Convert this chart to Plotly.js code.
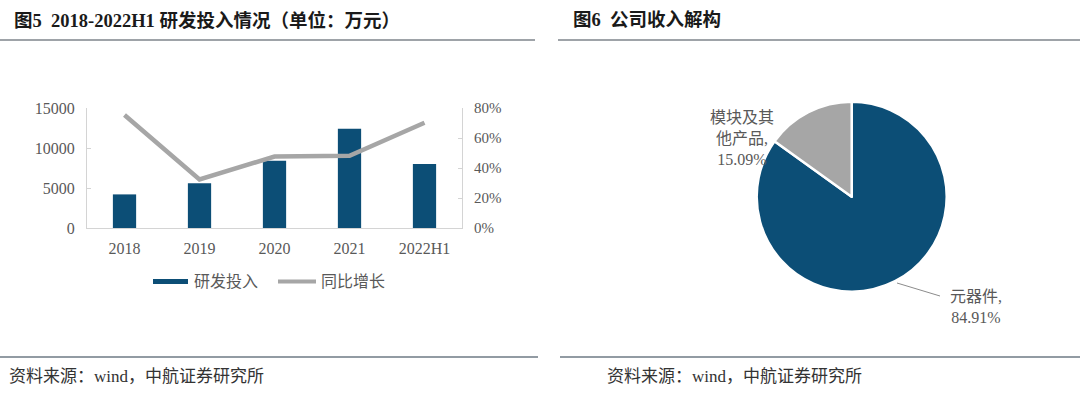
<!DOCTYPE html>
<html>
<head>
<meta charset="utf-8">
<script src="https://cdn.plot.ly/plotly-3.0.1.min.js"></script>
<style>
html,body{margin:0;padding:0;background:#fff;}
#chart{width:1080px;height:395px;}
</style>
</head>
<body>
<div id="chart"></div>
<script>
// ---- data ----
const years = ['2018', '2019', '2020', '2021', '2022H1'];
const rdSpend = [4200, 5600, 8400, 12400, 8000];          // 研发投入 (万元)
const yoyGrowth = [0.753, 0.324, 0.476, 0.482, 0.702];    // 同比增长
const seriesNames = ['研发投入', '同比增长'];
const pieLabels = ['元器件', '模块及其他产品'];
const pieValues = [84.91, 15.09];
const leftTitle = '图5  2018-2022H1 研发投入情况（单位：万元）';
const rightTitle = '图6  公司收入解构';
const sourceText = '资料来源：wind，中航证券研究所';

// ---- helpers (pixel -> paper) ----
const W = 1080, H = 395;
const px = x => x / W;
const py = y => 1 - y / H;

const blue = '#0c4e76';
const grey = '#a6a6a6';
const axisGrey = '#d4d4d4';
const textGrey = '#595959';
const serif = 'Liberation Serif, Noto Sans CJK SC, serif';

const traces = [
  {
    type: 'bar', x: years, y: rdSpend, name: seriesNames[0],
    marker: {color: blue}, showlegend: false, xaxis: 'x', yaxis: 'y'
  },
  {
    type: 'scatter', mode: 'lines', x: years, y: yoyGrowth, name: seriesNames[1],
    line: {color: grey, width: 4.5}, showlegend: false, xaxis: 'x', yaxis: 'y2'
  },
  {
    type: 'pie', labels: pieLabels, values: pieValues, sort: false,
    direction: 'clockwise', rotation: 0, textinfo: 'none', hoverinfo: 'none',
    marker: {colors: [blue, grey], line: {color: '#ffffff', width: 2.5}},
    domain: {x: [px(756.7), px(946.7)], y: [py(291.7), py(101.7)]},
    showlegend: false
  }
];

const fmtPct = v => v.toFixed(2) + '%';

const annotations = [
  {text: leftTitle, x: px(12), y: py(20), xanchor: 'left', yanchor: 'middle',
   font: {family: serif, size: 18.5, color: '#1a1a1a', weight: 'bold'}},
  {text: rightTitle, x: px(571), y: py(20), xanchor: 'left', yanchor: 'middle',
   font: {family: serif, size: 18.5, color: '#1a1a1a', weight: 'bold'}},
  {text: sourceText, x: px(7), y: py(376), xanchor: 'left', yanchor: 'middle',
   font: {family: serif, size: 17, color: '#333333'}},
  {text: sourceText, x: px(605), y: py(376), xanchor: 'left', yanchor: 'middle',
   font: {family: serif, size: 17, color: '#333333'}},
  // legend texts
  {text: seriesNames[0], x: px(192), y: py(281), xanchor: 'left', yanchor: 'middle',
   font: {family: serif, size: 16, color: textGrey}},
  {text: seriesNames[1], x: px(319), y: py(281), xanchor: 'left', yanchor: 'middle',
   font: {family: serif, size: 16, color: textGrey}},
  // pie labels
  {text: '模块及其<br>他产品,<br>' + fmtPct(pieValues[1]), x: px(742), y: py(138),
   xanchor: 'center', yanchor: 'middle', align: 'center',
   font: {family: serif, size: 16, color: textGrey}},
  {text: pieLabels[0] + ',<br>' + fmtPct(pieValues[0]), x: px(976), y: py(307),
   xanchor: 'center', yanchor: 'middle', align: 'center',
   font: {family: serif, size: 16, color: textGrey}}
].map(a => Object.assign({xref: 'paper', yref: 'paper', showarrow: false}, a));

const shapes = [
  // header rules
  {type: 'line', x0: 0, x1: px(535), y0: py(40), y1: py(40), line: {color: '#9ea3a8', width: 2}},
  {type: 'line', x0: px(558), x1: 1, y0: py(40), y1: py(40), line: {color: '#9ea3a8', width: 2}},
  // footer rules
  {type: 'line', x0: 0, x1: px(538), y0: py(357), y1: py(357), line: {color: '#6e7a84', width: 1.5}},
  {type: 'line', x0: px(560), x1: 1, y0: py(357), y1: py(357), line: {color: '#6e7a84', width: 1.5}},
  // legend keys
  {type: 'line', x0: px(153), x1: px(188), y0: py(281.5), y1: py(281.5), line: {color: blue, width: 5}},
  {type: 'line', x0: px(278), x1: px(316), y0: py(281.5), y1: py(281.5), line: {color: grey, width: 4}},
  // pie leader line
  {type: 'line', x0: px(897), x1: px(940), y0: py(283), y1: py(296), line: {color: '#8c8c8c', width: 1}}
].map(s => Object.assign({xref: 'paper', yref: 'paper'}, s));

const layout = {
  width: W, height: H,
  margin: {l: 0, r: 0, t: 0, b: 0},
  paper_bgcolor: '#ffffff', plot_bgcolor: '#ffffff',
  showlegend: false,
  bargap: 0.69,
  font: {family: serif, color: textGrey},
  xaxis: {
    domain: [px(87), px(462)], type: 'category',
    showline: true, linecolor: axisGrey, linewidth: 1,
    ticks: '', showgrid: false, zeroline: false,
    tickfont: {family: serif, size: 16, color: textGrey},
    ticklabelstandoff: 6
  },
  yaxis: {
    domain: [py(228), py(108)], range: [0, 15000], dtick: 5000, tickformat: 'd',
    showline: true, linecolor: axisGrey, linewidth: 1,
    ticks: 'inside', ticklen: 4, tickcolor: axisGrey,
    showgrid: false, zeroline: false,
    tickfont: {family: serif, size: 16, color: textGrey},
    ticklabelstandoff: 8
  },
  yaxis2: {
    overlaying: 'y', side: 'right', anchor: 'x',
    range: [0, 0.8], dtick: 0.2, tickformat: '.0%',
    showline: true, linecolor: axisGrey, linewidth: 1,
    ticks: 'inside', ticklen: 4, tickcolor: axisGrey,
    showgrid: false, zeroline: false,
    tickfont: {family: serif, size: 15, color: textGrey},
    ticklabelstandoff: 8
  },
  annotations: annotations,
  shapes: shapes
};

Plotly.newPlot('chart', traces, layout, {staticPlot: true, displayModeBar: false});
</script>
</body>
</html>
